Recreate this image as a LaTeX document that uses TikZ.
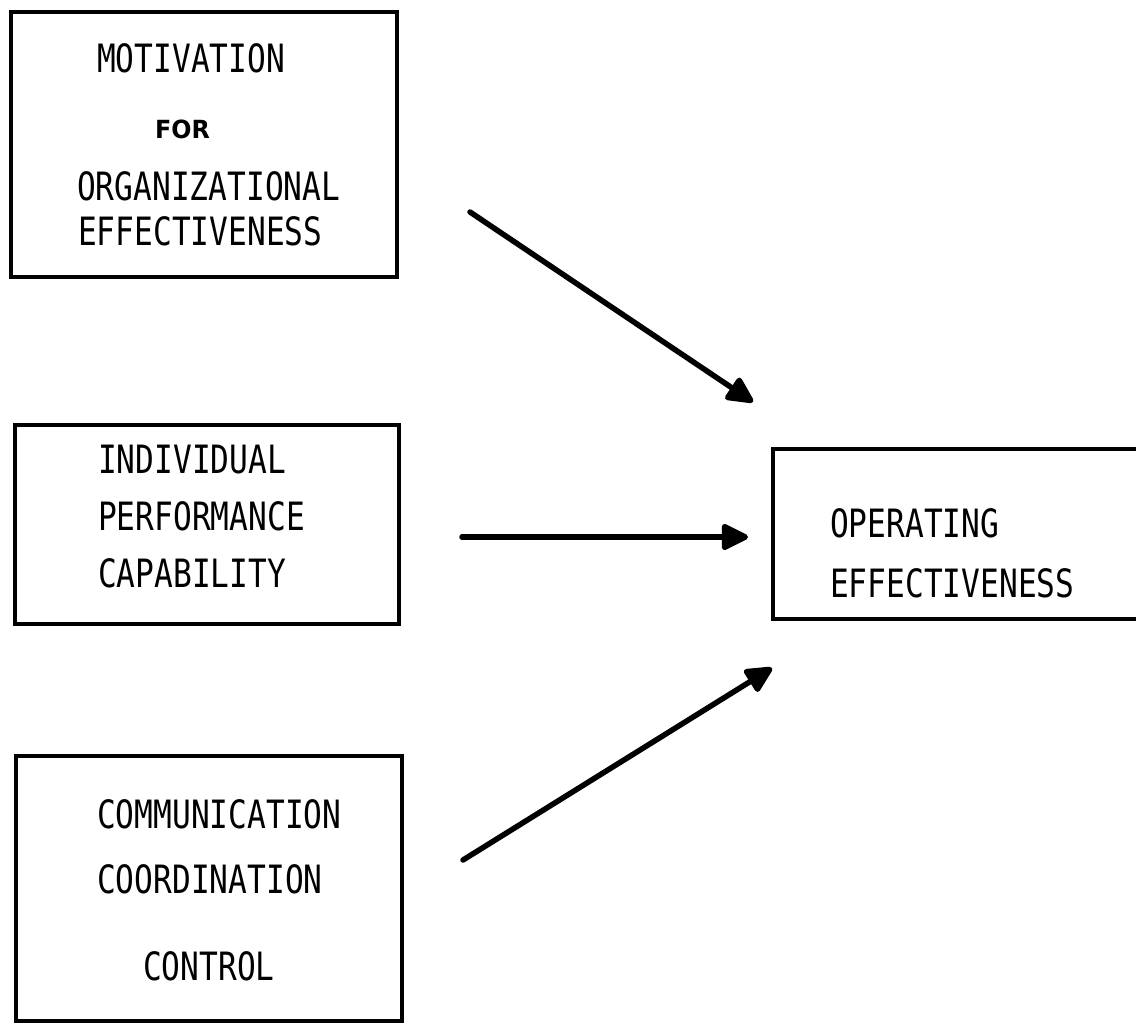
\documentclass[tikz,border=0pt]{standalone}
\usepackage{fontspec}
\setmainfont{DejaVu Sans Mono}[FakeStretch=0.8]
\newfontfamily\labelbold{DejaVu Sans}[FakeStretch=0.95]
\usetikzlibrary{arrows.meta}

\tikzset{
  factorbox/.style={draw=black, line width=4pt, rectangle, inner sep=0pt},
  caption/.style={anchor=base west, inner sep=0pt, font=\fontsize{39pt}{39pt}\selectfont},
  smallcap/.style={anchor=base west, inner sep=0pt, font=\labelbold\bfseries\fontsize{25pt}{25pt}\selectfont},
  influence/.style={line width=5.5pt, line cap=round,
    -{Triangle[length=30pt,width=28pt,round]}},
}

\begin{document}
\begin{tikzpicture}[x=1pt, y=-1pt]
\useasboundingbox (0,0) rectangle (1136,1025);

% Factor boxes
\node[factorbox, minimum width=386pt, minimum height=265pt] (motiv) at (204,144.5) {};
\node[factorbox, minimum width=384pt, minimum height=199pt] (indiv) at (207,524.5) {};
\node[factorbox, minimum width=386pt, minimum height=265pt] (comm)  at (209,888) {};
\node[factorbox, minimum width=380pt, minimum height=170pt] (oper)  at (963,534) {};

% Box texts
\node[caption]  (m1) at (97,73)  {MOTIVATION};
\node[smallcap] (m2) at (155,138) {FOR};
\node[caption]  (m3) at (77,200) {ORGANIZATIONAL};
\node[caption]  (m4) at (78,245) {EFFECTIVENESS};

\node[caption] (i1) at (98,473) {INDIVIDUAL};
\node[caption] (i2) at (98,530) {PERFORMANCE};
\node[caption] (i3) at (98,587) {CAPABILITY};

\node[caption] (c1) at (97,828) {COMMUNICATION};
\node[caption] (c2) at (97,893) {COORDINATION};
\node[caption] (c3) at (143,980) {CONTROL};

\node[caption] (o1) at (830,537) {OPERATING};
\node[caption] (o2) at (830,597) {EFFECTIVENESS};

% Arrow end points
\coordinate (a1s) at (470,212);
\coordinate (a1e) at (753,402);
\coordinate (a2s) at (462,537);
\coordinate (a2e) at (748,537);
\coordinate (a3s) at (463,860);
\coordinate (a3e) at (772,668);

% Influences on operating effectiveness
\draw[influence] (a1s) -- (a1e);
\draw[influence] (a2s) -- (a2e);
\draw[influence] (a3s) -- (a3e);
\end{tikzpicture}
\end{document}
